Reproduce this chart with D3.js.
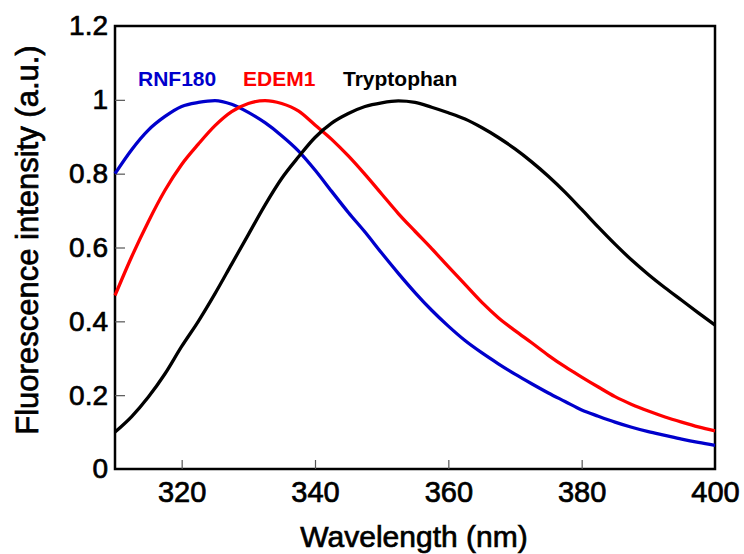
<!DOCTYPE html>
<html>
<head>
<meta charset="utf-8">
<script src="https://cdn.jsdelivr.net/npm/d3@7"></script>
<style>
  body { margin: 0; background: #fff; }
  text { font-family: "Liberation Sans", Arial, sans-serif; }
  .heavy { stroke: #000; stroke-width: 0.7px; }
</style>
</head>
<body>
<script>
let width = 744;
let height = 554;
let margin = {top: 26, right: 29, bottom: 85, left: 115};

// wavelength (nm), sampled every 2.5 nm
let wavelengths = [310, 312.5, 315, 317.5, 320, 322.5, 325, 327.5, 330, 332.5,
  335, 337.5, 340, 342.5, 345, 347.5, 350, 352.5, 355, 357.5,
  360, 362.5, 365, 367.5, 370, 372.5, 375, 377.5, 380, 382.5,
  385, 387.5, 390, 392.5, 395, 397.5, 400];

let rnf180 = [0.80, 0.865, 0.918, 0.955, 0.982, 0.993, 0.998, 0.988, 0.966, 0.938,
  0.903, 0.862, 0.81, 0.752, 0.695, 0.642, 0.585, 0.53, 0.478, 0.43,
  0.387, 0.348, 0.315, 0.285, 0.257, 0.231, 0.206, 0.183, 0.16, 0.143,
  0.127, 0.113, 0.101, 0.091, 0.081, 0.072, 0.064];

let edem1 = [0.47, 0.575, 0.67, 0.755, 0.825, 0.88, 0.93, 0.968, 0.99, 0.998,
  0.99, 0.97, 0.932, 0.893, 0.848, 0.798, 0.745, 0.692, 0.644, 0.597,
  0.548, 0.5, 0.452, 0.41, 0.375, 0.342, 0.308, 0.277, 0.249, 0.222,
  0.196, 0.175, 0.157, 0.141, 0.127, 0.114, 0.103];

let tryptophan = [0.10, 0.142, 0.195, 0.258, 0.332, 0.4, 0.475, 0.555, 0.635, 0.715,
  0.787, 0.845, 0.898, 0.937, 0.963, 0.982, 0.992, 0.997, 0.993, 0.98,
  0.965, 0.948, 0.925, 0.898, 0.867, 0.832, 0.793, 0.75, 0.703, 0.655,
  0.609, 0.566, 0.527, 0.491, 0.457, 0.423, 0.39];

let xTicks = [320, 340, 360, 380, 400];
let yTicks = [0, 0.2, 0.4, 0.6, 0.8, 1, 1.2];

let seriesNames = ['RNF180', 'EDEM1', 'Tryptophan'];
let seriesColors = ['#0000cc', '#ff0000', '#000000'];
let seriesValues = [rnf180, edem1, tryptophan];

let svg = d3.select('body')
    .append('svg')
    .attr('width', width)
    .attr('height', height);

let x = d3.scaleLinear().domain([310, 400]).range([margin.left, width - margin.right]);
let y = d3.scaleLinear().domain([0, 1.2]).range([height - margin.bottom, margin.top]);

// frame
svg.append('rect')
    .attr('x', x(310))
    .attr('y', y(1.2))
    .attr('width', x(400) - x(310))
    .attr('height', y(0) - y(1.2))
    .attr('fill', 'none')
    .attr('stroke', '#000')
    .attr('stroke-width', 2.5);

// inward ticks
let xAxis = svg.append('g')
    .attr('transform', `translate(0,${y(0)})`)
    .call(d3.axisBottom(x).tickValues(xTicks).tickSizeInner(-9).tickSizeOuter(0).tickFormat(d3.format('d')));
xAxis.select('.domain').remove();
xAxis.selectAll('line').attr('stroke', '#555').attr('stroke-width', 1.2)
    .filter(d => d === 400).remove();
xAxis.selectAll('text')
    .attr('class', 'heavy')
    .attr('y', 33).attr('dy', 0)
    .attr('fill', '#000')
    .style('font-size', '29px');

let yAxis = svg.append('g')
    .attr('transform', `translate(${x(310)},0)`)
    .call(d3.axisLeft(y).tickValues(yTicks).tickSizeInner(-10).tickSizeOuter(0).tickFormat(d => d));
yAxis.select('.domain').remove();
yAxis.selectAll('line').attr('stroke', '#555').attr('stroke-width', 1.2)
    .filter(d => d === 0 || d === 1.2).remove();
yAxis.selectAll('text')
    .attr('class', 'heavy')
    .attr('x', -7)
    .attr('fill', '#000')
    .style('font-size', '28px');

// curves
let line = d3.line()
    .x((d, i) => x(wavelengths[i]))
    .y(d => y(d))
    .curve(d3.curveMonotoneX);

svg.append('g')
    .selectAll('path')
    .data(seriesValues)
    .enter().append('path')
      .attr('d', d => line(d))
      .attr('fill', 'none')
      .attr('stroke', (d, i) => seriesColors[i])
      .attr('stroke-width', 3.3);

// curve labels
svg.append('g')
    .selectAll('text')
    .data(seriesNames)
    .enter().append('text')
      .attr('x', (d, i) => [138, 243, 343][i])
      .attr('y', 86)
      .attr('fill', (d, i) => seriesColors[i])
      .style('font-size', '21px')
      .style('font-weight', 'bold')
      .text(d => d);

// axis titles
svg.append('text')
    .attr('class', 'heavy')
    .attr('x', 414)
    .attr('y', 547)
    .attr('text-anchor', 'middle')
    .style('font-size', '30px')
    .text('Wavelength (nm)');

svg.append('text')
    .attr('class', 'heavy')
    .attr('transform', 'translate(38,240) rotate(-90)')
    .attr('text-anchor', 'middle')
    .style('font-size', '31px')
    .text('Fluorescence intensity (a.u.)');
</script>
</body>
</html>
